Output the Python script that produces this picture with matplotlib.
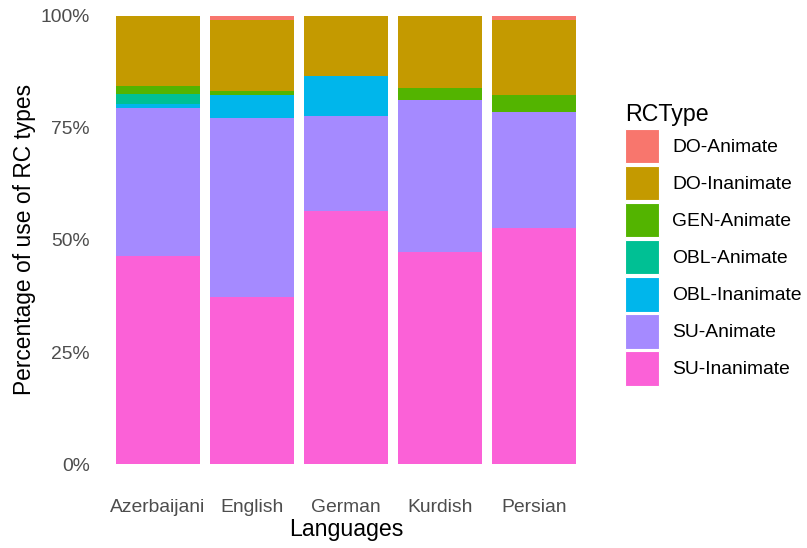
import matplotlib
matplotlib.use("Agg")
import matplotlib.pyplot as plt
from matplotlib.patches import Patch
from matplotlib.ticker import FixedLocator

plt.rcParams["font.family"] = ["Liberation Sans", "DejaVu Sans"]

languages = ["Azerbaijani", "English", "German", "Kurdish", "Persian"]

# share of each RC type per language (percent)
su_inanimate = [46.3, 37.3, 56.4, 47.2, 52.6]
su_animate = [33.0, 39.9, 21.1, 33.9, 26.0]
obl_inanimate = [1.0, 5.2, 9.0, 0.0, 0.0]
obl_animate = [2.2, 0.0, 0.0, 0.0, 0.0]
gen_animate = [1.8, 0.8, 0.0, 2.8, 3.6]
do_inanimate = [15.7, 15.7, 13.5, 16.1, 16.7]
do_animate = [0.0, 1.1, 0.0, 0.0, 1.1]

rc_types = ["DO-Animate", "DO-Inanimate", "GEN-Animate", "OBL-Animate",
            "OBL-Inanimate", "SU-Animate", "SU-Inanimate"]
colors = ["#F8766D", "#C49A00", "#53B400", "#00C094", "#00B6EB", "#A58AFF", "#FB61D7"]

# stacked bottom to top
stack = [su_inanimate, su_animate, obl_inanimate, obl_animate,
         gen_animate, do_inanimate, do_animate]
stack_colors = colors[::-1]

fig = plt.figure(figsize=(8.07, 5.48), dpi=100)
ax = fig.add_axes([0.1259, 0.1119, 0.6057, 0.9007])

x = list(range(1, len(languages) + 1))
bottom = [0.0] * len(languages)
for vals, col in zip(stack, stack_colors):
    fr = [v / 100 for v in vals]
    ax.bar(x, fr, width=0.9, bottom=bottom, color=col, linewidth=0)
    bottom = [b + f for b, f in zip(bottom, fr)]

ax.set_xlim(0.4, 5.6)
ax.set_ylim(-0.05, 1.05)
ax.set_xticks(x)
ax.set_xticklabels(languages)
ax.yaxis.set_major_locator(FixedLocator([0, 0.25, 0.5, 0.75, 1.0]))
ax.set_yticklabels(["0%", "25%", "50%", "75%", "100%"])
ax.tick_params(axis="both", length=0, labelsize=13.9, colors="#4D4D4D")
ax.tick_params(axis="x", pad=9)
ax.tick_params(axis="y", pad=8.5)
for s in ax.spines.values():
    s.set_visible(False)

ax.set_xlabel("Languages", fontsize=16.7, color="black", labelpad=1)
ax.set_ylabel("Percentage of use of RC types", fontsize=16.4, color="black", labelpad=3)

handles = [Patch(facecolor=c, edgecolor="white", linewidth=0.8) for c in colors]
leg = fig.legend(handles, rc_types, loc="upper left",
                 bbox_to_anchor=(0.765, 0.826), frameon=False,
                 title="RCType", fontsize=13.9, title_fontsize=16.7,
                 handlelength=1.77, handleheight=2.38, labelspacing=0.13,
                 handletextpad=0.68, alignment="left", borderaxespad=0)

fig.savefig("out.png", dpi=100)
